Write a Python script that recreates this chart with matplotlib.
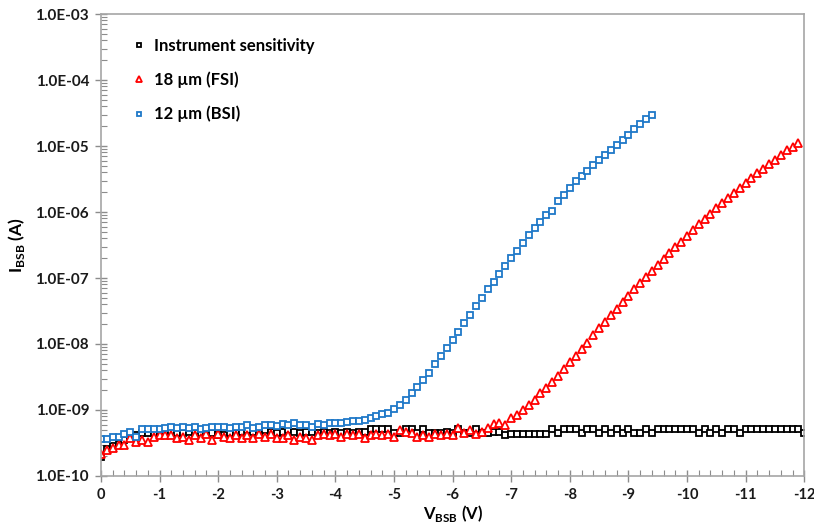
import matplotlib
matplotlib.use("Agg")
import matplotlib.pyplot as plt
from matplotlib.ticker import FixedLocator, FuncFormatter, LogLocator, NullFormatter

plt.rcParams["font.family"] = ["Lato", "DejaVu Sans"]
plt.rcParams["mathtext.fontset"] = "custom"
plt.rcParams["mathtext.rm"] = "Lato"
plt.rcParams["mathtext.bf"] = "Lato:bold"

# gate voltage sweep (V), 0.1 V steps
volts = [
    0.0, -0.1, -0.2, -0.3, -0.4, -0.5, -0.6, -0.7, -0.8, -0.9,
    -1.0, -1.1, -1.2, -1.3, -1.4, -1.5, -1.6, -1.7, -1.8, -1.9,
    -2.0, -2.1, -2.2, -2.3, -2.4, -2.5, -2.6, -2.7, -2.8, -2.9,
    -3.0, -3.1, -3.2, -3.3, -3.4, -3.5, -3.6, -3.7, -3.8, -3.9,
    -4.0, -4.1, -4.2, -4.3, -4.4, -4.5, -4.6, -4.7, -4.8, -4.9,
    -5.0, -5.1, -5.2, -5.3, -5.4, -5.5, -5.6, -5.7, -5.8, -5.9,
    -6.0, -6.1, -6.2, -6.3, -6.4, -6.5, -6.6, -6.7, -6.8, -6.9,
    -7.0, -7.1, -7.2, -7.3, -7.4, -7.5, -7.6, -7.7, -7.8, -7.9,
    -8.0, -8.1, -8.2, -8.3, -8.4, -8.5, -8.6, -8.7, -8.8, -8.9,
    -9.0, -9.1, -9.2, -9.3, -9.4, -9.5, -9.6, -9.7, -9.8, -9.9,
    -10.0, -10.1, -10.2, -10.3, -10.4, -10.5, -10.6, -10.7, -10.8, -10.9,
    -11.0, -11.1, -11.2, -11.3, -11.4, -11.5, -11.6, -11.7, -11.8, -11.9,
    -12.0,
]

# instrument sensitivity (A), 0 .. -12.0 V
i_instr = [
    1.96e-10, 2.6e-10, 2.8e-10, 3.1e-10, 3.5e-10, 3.9e-10, 4.2e-10, 4.5e-10, 4.5e-10, 4.5e-10,
    4.7e-10, 4.5e-10, 4.7e-10, 4.5e-10, 4.5e-10, 4.7e-10, 4.5e-10, 4.5e-10, 4.7e-10, 4.5e-10,
    4.2e-10, 4.2e-10, 4.5e-10, 4.5e-10, 4.7e-10, 5.0e-10, 4.7e-10, 4.7e-10, 5.0e-10, 4.7e-10,
    4.5e-10, 4.7e-10, 5.0e-10, 4.7e-10, 4.5e-10, 4.7e-10, 4.7e-10, 4.5e-10, 4.7e-10, 4.5e-10,
    4.7e-10, 4.5e-10, 4.7e-10, 4.5e-10, 4.7e-10, 4.7e-10, 5.2e-10, 5.2e-10, 5.2e-10, 5.2e-10,
    4.5e-10, 4.5e-10, 5.2e-10, 5.2e-10, 4.5e-10, 5.2e-10, 4.5e-10, 4.5e-10, 4.5e-10, 4.7e-10,
    4.5e-10, 5.2e-10, 4.5e-10, 4.5e-10, 5.2e-10, 4.5e-10, 4.5e-10, 4.7e-10, 4.7e-10, 4.2e-10,
    4.4e-10, 4.4e-10, 4.4e-10, 4.4e-10, 4.4e-10, 4.4e-10, 4.4e-10, 5.2e-10, 4.5e-10, 5.2e-10,
    5.2e-10, 5.2e-10, 4.5e-10, 5.2e-10, 5.2e-10, 4.5e-10, 5.2e-10, 4.5e-10, 5.2e-10, 4.5e-10,
    5.2e-10, 4.5e-10, 4.5e-10, 5.2e-10, 4.5e-10, 5.2e-10, 5.2e-10, 5.2e-10, 5.2e-10, 5.2e-10,
    5.2e-10, 5.2e-10, 4.5e-10, 5.2e-10, 4.5e-10, 5.2e-10, 4.5e-10, 5.2e-10, 5.2e-10, 4.5e-10,
    5.2e-10, 5.2e-10, 5.2e-10, 5.2e-10, 5.2e-10, 5.2e-10, 5.2e-10, 5.2e-10, 5.2e-10, 5.2e-10,
    4.5e-10,
]

# 18 um FSI pixel (A), 0 .. -11.9 V
i_fsi = [
    2.15e-10, 2.5e-10, 2.7e-10, 2.95e-10, 2.95e-10, 3.7e-10, 3.3e-10, 3.5e-10, 3.3e-10, 3.95e-10,
    4.2e-10, 4.2e-10, 4.2e-10, 3.7e-10, 3.95e-10, 3.5e-10, 4.2e-10, 3.7e-10, 4.4e-10, 3.5e-10,
    4.4e-10, 3.95e-10, 3.7e-10, 4.2e-10, 3.7e-10, 4.2e-10, 3.7e-10, 4.4e-10, 3.95e-10, 4.4e-10,
    3.7e-10, 3.7e-10, 4.2e-10, 3.5e-10, 3.95e-10, 3.7e-10, 3.5e-10, 4.2e-10, 4.4e-10, 4.2e-10,
    4.4e-10, 3.95e-10, 4.4e-10, 4.2e-10, 4.4e-10, 3.7e-10, 4.2e-10, 4.4e-10, 4.2e-10, 4.4e-10,
    3.9e-10, 5.0e-10, 4.7e-10, 4.5e-10, 3.95e-10, 4.2e-10, 3.9e-10, 4.4e-10, 4.2e-10, 4.4e-10,
    4.2e-10, 5.3e-10, 4.5e-10, 5.0e-10, 4.4e-10, 4.7e-10, 5.3e-10, 6.1e-10, 6.3e-10, 5.9e-10,
    7.6e-10, 8.4e-10, 1.0e-9, 1.19e-9, 1.44e-9, 1.78e-9, 2.15e-9, 2.7e-9, 3.27e-9, 4.18e-9,
    5.25e-9, 6.58e-9, 8.4e-9, 1.05e-8, 1.35e-8, 1.72e-8, 2.19e-8, 2.75e-8, 3.45e-8, 4.33e-8,
    5.34e-8, 6.7e-8, 8.26e-8, 1.04e-7, 1.28e-7, 1.57e-7, 1.94e-7, 2.39e-7, 2.95e-7, 3.57e-7,
    4.33e-7, 5.34e-7, 6.47e-7, 7.83e-7, 9.49e-7, 1.15e-6, 1.37e-6, 1.63e-6, 1.94e-6, 2.31e-6,
    2.75e-6, 3.27e-6, 3.9e-6, 4.56e-6, 5.34e-6, 6.24e-6, 7.31e-6, 8.55e-6, 9.83e-6, 1.11e-5,
]

# 12 um BSI pixel (A), 0 .. -9.4 V
i_bsi = [
    3.6e-10, 3.6e-10, 3.95e-10, 3.95e-10, 4.3e-10, 4.6e-10, 3.95e-10, 5.1e-10, 5.1e-10, 5.1e-10,
    5.1e-10, 5.3e-10, 5.6e-10, 5.3e-10, 5.6e-10, 5.3e-10, 5.6e-10, 5.1e-10, 5.3e-10, 5.6e-10,
    5.6e-10, 5.6e-10, 5.3e-10, 5.6e-10, 5.6e-10, 5.9e-10, 5.3e-10, 5.6e-10, 5.9e-10, 5.9e-10,
    5.7e-10, 6.1e-10, 5.9e-10, 6.3e-10, 5.9e-10, 5.9e-10, 5.6e-10, 6.1e-10, 5.9e-10, 6.3e-10,
    6.3e-10, 6.3e-10, 6.6e-10, 6.8e-10, 6.8e-10, 7.05e-10, 7.6e-10, 8.1e-10, 8.7e-10, 9.0e-10,
    1.04e-9, 1.19e-9, 1.42e-9, 1.81e-9, 2.23e-9, 2.85e-9, 3.64e-9, 4.98e-9, 6.58e-9, 8.69e-9,
    1.15e-8, 1.52e-8, 2.08e-8, 2.75e-8, 3.77e-8, 4.98e-8, 6.81e-8, 8.69e-8, 1.15e-7, 1.52e-7,
    2.01e-7, 2.56e-7, 3.39e-7, 4.48e-7, 5.73e-7, 7.05e-7, 9.01e-7, 1.04e-6, 1.47e-6, 1.81e-6,
    2.31e-6, 2.95e-6, 3.51e-6, 4.18e-6, 5.15e-6, 6.14e-6, 7.31e-6, 8.69e-6, 1.04e-5, 1.23e-5,
    1.47e-5, 1.81e-5, 2.15e-5, 2.56e-5, 2.95e-5,
]

x_ticks = [0, -1, -2, -3, -4, -5, -6, -7, -8, -9, -10, -11, -12]
y_ticks = [1e-10, 1e-9, 1e-8, 1e-7, 1e-6, 1e-5, 1e-4, 1e-3]

fig = plt.figure(figsize=(8.14, 5.31), dpi=100)
ax = fig.add_axes([0.124, 0.1036, 0.864, 0.870])

ax.plot(volts, i_instr, ls="none", marker="s", ms=5, mfc="white", mec="black", mew=1.3,
        label="Instrument sensitivity")
ax.plot(volts[:len(i_fsi)], i_fsi, ls="none", marker="^", ms=5.5, mfc="white", mec="#ff0000", mew=1.3,
        label="18 µm (FSI)")
ax.plot(volts[:len(i_bsi)], i_bsi, ls="none", marker="s", ms=5, mfc="white", mec="#1f78c8", mew=1.3,
        label="12 µm (BSI)")

ax.set_yscale("log")
ax.set_ylim(1e-10, 1e-3)
ax.set_xlim(0, -12)

ax.xaxis.set_major_locator(FixedLocator(x_ticks))
ax.xaxis.set_minor_locator(FixedLocator([-0.2 * k for k in range(61) if k % 5]))
ax.xaxis.set_major_formatter(FuncFormatter(lambda v, p: f"{v:.0f}" if v != 0 else "0"))
ax.yaxis.set_major_locator(FixedLocator(y_ticks))
ax.yaxis.set_minor_locator(LogLocator(base=10, subs=range(2, 10), numticks=20))
ax.yaxis.set_minor_formatter(NullFormatter())
ax.yaxis.set_major_formatter(FuncFormatter(lambda v, p: f"{v:.1E}"))

for s in ax.spines.values():
    s.set_color("#a6a6a6")
    s.set_linewidth(1.2)

ax.tick_params(which="major", direction="inout", length=9, width=1, color="#8c8c8c",
               labelsize=11, pad=4)
ax.tick_params(which="minor", direction="in", length=4, width=0.8, color="#8c8c8c")
ax.tick_params(axis="x", pad=4, labelsize=10.5)
for lab in ax.get_xticklabels() + ax.get_yticklabels():
    lab.set_fontweight("bold")
    lab.set_color("#1a1a1a")

ax.set_xlabel(r"$\mathbf{V}_{\mathbf{BSB}}$ (V)", fontsize=12, fontweight="bold", labelpad=1)
ax.set_ylabel(r"$\mathbf{I}_{\mathbf{BSB}}$ (A)", fontsize=12.5, fontweight="bold", labelpad=6)

leg = ax.legend(loc="upper left", bbox_to_anchor=(0.025, 0.98), frameon=False,
                handlelength=0.6, handletextpad=0.6, labelspacing=1.05,
                prop={"weight": "bold", "size": 12}, markerscale=0.7)

fig.savefig("out.png", dpi=100)
